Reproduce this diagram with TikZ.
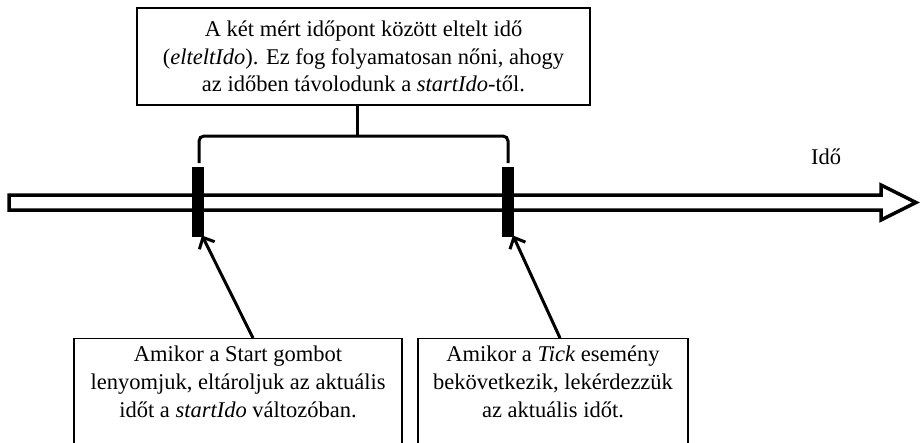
\documentclass[tikz,border=0pt]{standalone}
\usepackage{fontspec}
\setmainfont{Liberation Serif}
\usetikzlibrary{arrows.meta}
\begin{document}
\begin{tikzpicture}[x=1pt,y=-1pt,line width=3pt,
	textbox/.style={draw,line width=1.2pt,align=center,inner sep=0pt,
		font=\fontsize{22.5}{27.5}\selectfont},
	tickmark/.style={fill=black,inner sep=0pt,minimum width=12pt,minimum height=70pt},
	pointer/.style={-{Straight Barb[length=9pt,width=17pt,line width=3pt]}}]
	\useasboundingbox (0,0) rectangle (923,442);
	\clip (0,0) rectangle (923,442);

	% the time axis
	\draw[line width=3.5pt,miter limit=10] (9,195) -- (881,195) -- (881,185)
		-- (916,202.5) -- (881,220) -- (881,210) -- (9,210) -- cycle;
	\node (Ido) at (826,157) [font=\fontsize{22.5}{27}\selectfont] {Idő};

	\node (T1) at (198,202) [tickmark] {};
	\node (T2) at (508,202) [tickmark] {};

	\node (E) at (363.5,56.5) [textbox,minimum width=453pt,minimum height=97pt]
		{A két mért időpont között eltelt idő\\
		 (\textit{elteltIdo}). Ez fog folyamatosan nőni, ahogy\\
		 az időben távolodunk a \textit{startIdo}-től.};
	\node (S) at (238,338) [textbox,anchor=north,minimum width=328pt,
		minimum height=150pt] {};
	\node at (238,382) [font=\fontsize{22.5}{28}\selectfont,align=center]
		{Amikor a Start gombot\\
		 lenyomjuk, eltároljuk az aktuális\\
		 időt a \textit{startIdo} változóban.};
	\node (K) at (553,338) [textbox,anchor=north,minimum width=270pt,
		minimum height=150pt] {};
	\node at (553,382) [font=\fontsize{22.5}{28}\selectfont,align=center]
		{Amikor a \textit{Tick} esemény\\
		 bekövetkezik, lekérdezzük\\
		 az aktuális időt.};

	% bracket over the two ticks
	\coordinate (B) at (357,136);
	\draw (B |- E.south) -- (B);
	\draw[rounded corners=5pt] (199,163) -- (199,136) -- (508,136) -- (508,163);

	\coordinate (S0) at (253,338);
	\coordinate (K0) at (560,338);
	\draw[pointer] (S0) -- ([xshift=4pt,yshift=3pt]T1.south);
	\draw[pointer] (K0) -- ([xshift=5pt,yshift=3pt]T2.south);
\end{tikzpicture}
\end{document}
